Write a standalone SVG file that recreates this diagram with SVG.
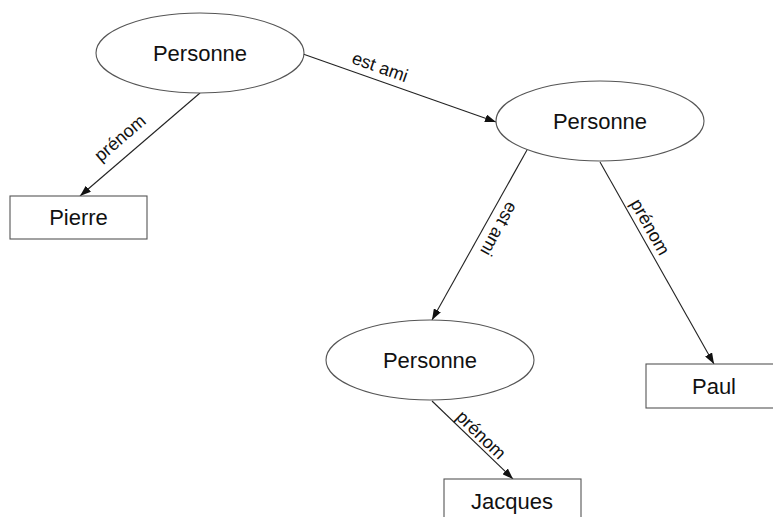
<svg xmlns="http://www.w3.org/2000/svg" width="773" height="517" viewBox="0 0 773 517">
  <defs>
    <marker id="arrow" markerWidth="11" markerHeight="8" refX="11" refY="4" orient="auto" markerUnits="userSpaceOnUse">
      <path d="M0,0 L11,4 L0,8 z" fill="#111"/>
    </marker>
    <style>
      .node-shape { fill: #fff; stroke: #555; stroke-width: 1.1; }
      .node-label { font-family: "Liberation Sans", Arial, sans-serif; font-size: 22px; fill: #111; text-anchor: middle; }
      .edge { stroke: #222; stroke-width: 1.1; fill: none; marker-end: url(#arrow); }
      .edge-label { font-family: "Liberation Sans", Arial, sans-serif; font-size: 18px; fill: #111; text-anchor: middle; }
    </style>
  </defs>
  <rect width="773" height="517" fill="#fff"/>

  <g id="connectors">
    <line class="edge" x1="303" y1="54" x2="496" y2="122"/>
    <line class="edge" x1="200" y1="93" x2="80" y2="196"/>
    <line class="edge" x1="527" y1="150" x2="432" y2="320"/>
    <line class="edge" x1="600" y1="162" x2="714" y2="364"/>
    <line class="edge" x1="432" y1="401" x2="513" y2="479"/>
    <text class="edge-label" transform="translate(380,67) rotate(19.4)" dy="6">est ami</text>
    <text class="edge-label" transform="translate(120,138) rotate(-40.6)" dy="6">prénom</text>
    <text class="edge-label" transform="translate(499,229) rotate(119)" dy="6">est ami</text>
    <text class="edge-label" transform="translate(650,227) rotate(60.6)" dy="6">prénom</text>
    <text class="edge-label" transform="translate(481,435) rotate(44)" dy="6">prénom</text>
  </g>

  <g id="personne-1">
    <ellipse class="node-shape" cx="200" cy="53" rx="104" ry="40"/>
    <text class="node-label" x="200" y="61">Personne</text>
  </g>
  <g id="personne-2">
    <ellipse class="node-shape" cx="600" cy="121" rx="104" ry="40"/>
    <text class="node-label" x="600" y="129">Personne</text>
  </g>
  <g id="personne-3">
    <ellipse class="node-shape" cx="430" cy="360" rx="104" ry="40"/>
    <text class="node-label" x="430" y="368">Personne</text>
  </g>
  <g id="pierre">
    <rect class="node-shape" x="10" y="196" width="137" height="43"/>
    <text class="node-label" x="78.5" y="225">Pierre</text>
  </g>
  <g id="paul">
    <rect class="node-shape" x="646" y="364" width="137" height="44"/>
    <text class="node-label" x="714" y="394">Paul</text>
  </g>
  <g id="jacques">
    <rect class="node-shape" x="444" y="479" width="137" height="44"/>
    <text class="node-label" x="512" y="509">Jacques</text>
  </g>
</svg>
